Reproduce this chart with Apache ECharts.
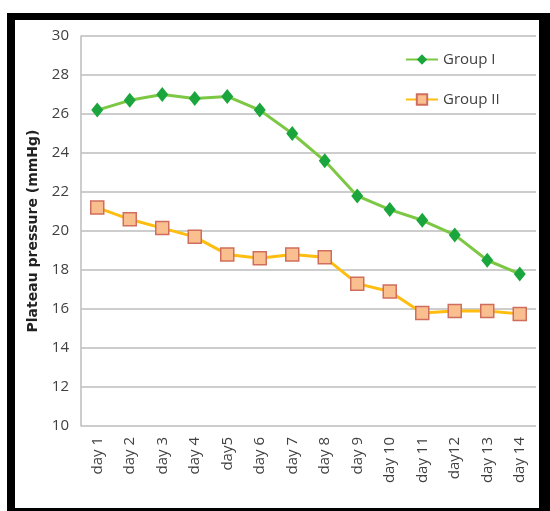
<!DOCTYPE html>
<html>
<head>
<meta charset="utf-8">
<script src="https://cdn.jsdelivr.net/npm/echarts@6/dist/echarts.min.js"></script>
<style>
html,body{margin:0;padding:0;background:#fff;}
#chart{width:550px;height:511px;}
</style>
</head>
<body>
<div id="chart"></div>
<script>
const categories = ['day 1','day 2','day 3','day 4','day5','day 6','day 7','day 8','day 9','day 10','day 11','day12','day 13','day 14'];
const groupI = [26.2, 26.7, 27.0, 26.8, 26.9, 26.2, 25.0, 23.6, 21.8, 21.1, 20.55, 19.8, 18.5, 17.8];
const groupII = [21.2, 20.6, 20.15, 19.7, 18.8, 18.6, 18.8, 18.65, 17.3, 16.9, 15.8, 15.9, 15.9, 15.75];
const yTicks = {min: 10, max: 30, interval: 2};
const seriesNames = ['Group I', 'Group II'];
const yTitle = 'Plateau pressure (mmHg)';

const font = 'Open Sans';
const chart = echarts.init(document.getElementById('chart'), null, {renderer: 'canvas'});
chart.setOption({
  animation: false,
  backgroundColor: '#fff',
  grid: {left: 81, right: 14, top: 36, bottom: 85, containLabel: false},
  legend: {
    orient: 'vertical',
    left: 400,
    top: 47,
    itemGap: 25,
    itemWidth: 32,
    itemHeight: 13,
    textStyle: {fontFamily: font, fontSize: 15, color: '#404040'},
    data: seriesNames
  },
  xAxis: {
    type: 'category',
    data: categories,
    boundaryGap: true,
    axisLine: {show: false},
    axisTick: {show: false},
    axisLabel: {rotate: 90, margin: 11, fontFamily: font, fontSize: 15, color: '#404040'}
  },
  yAxis: {
    type: 'value',
    min: yTicks.min,
    max: yTicks.max,
    interval: yTicks.interval,
    name: yTitle,
    nameLocation: 'middle',
    nameGap: 41,
    nameTextStyle: {fontFamily: 'DejaVu Sans', fontSize: 14, fontWeight: 'bold', color: '#222'},
    axisLine: {show: true, lineStyle: {color: '#bdbdbd', width: 1.5}},
    axisTick: {show: false},
    axisLabel: {margin: 12, fontFamily: font, fontSize: 15, color: '#404040'},
    splitLine: {lineStyle: {color: '#bdbdbd', width: 1.5}}
  },
  series: [
    {
      name: seriesNames[0],
      type: 'line',
      data: groupI,
      symbol: 'diamond',
      symbolSize: [12, 15],
      lineStyle: {color: '#7cc845', width: 3},
      itemStyle: {color: '#1ba63d', borderWidth: 0},
      z: 3
    },
    {
      name: seriesNames[1],
      type: 'line',
      data: groupII,
      symbol: 'rect',
      symbolSize: 13,
      lineStyle: {color: '#ffbd0f', width: 3},
      itemStyle: {color: '#f9bf8f', borderColor: '#cf6e5c', borderWidth: 1.5},
      z: 2
    }
  ],
  graphic: [
    {type: 'rect', shape: {x: 7, y: 13, width: 543, height: 7}, style: {fill: '#000'}, silent: true},
    {type: 'rect', shape: {x: 7, y: 13, width: 8, height: 498}, style: {fill: '#000'}, silent: true},
    {type: 'rect', shape: {x: 539, y: 13, width: 11, height: 498}, style: {fill: '#000'}, silent: true},
    {type: 'rect', shape: {x: 7, y: 508, width: 543, height: 3}, style: {fill: '#000'}, silent: true}
  ]
});
</script>
</body>
</html>
